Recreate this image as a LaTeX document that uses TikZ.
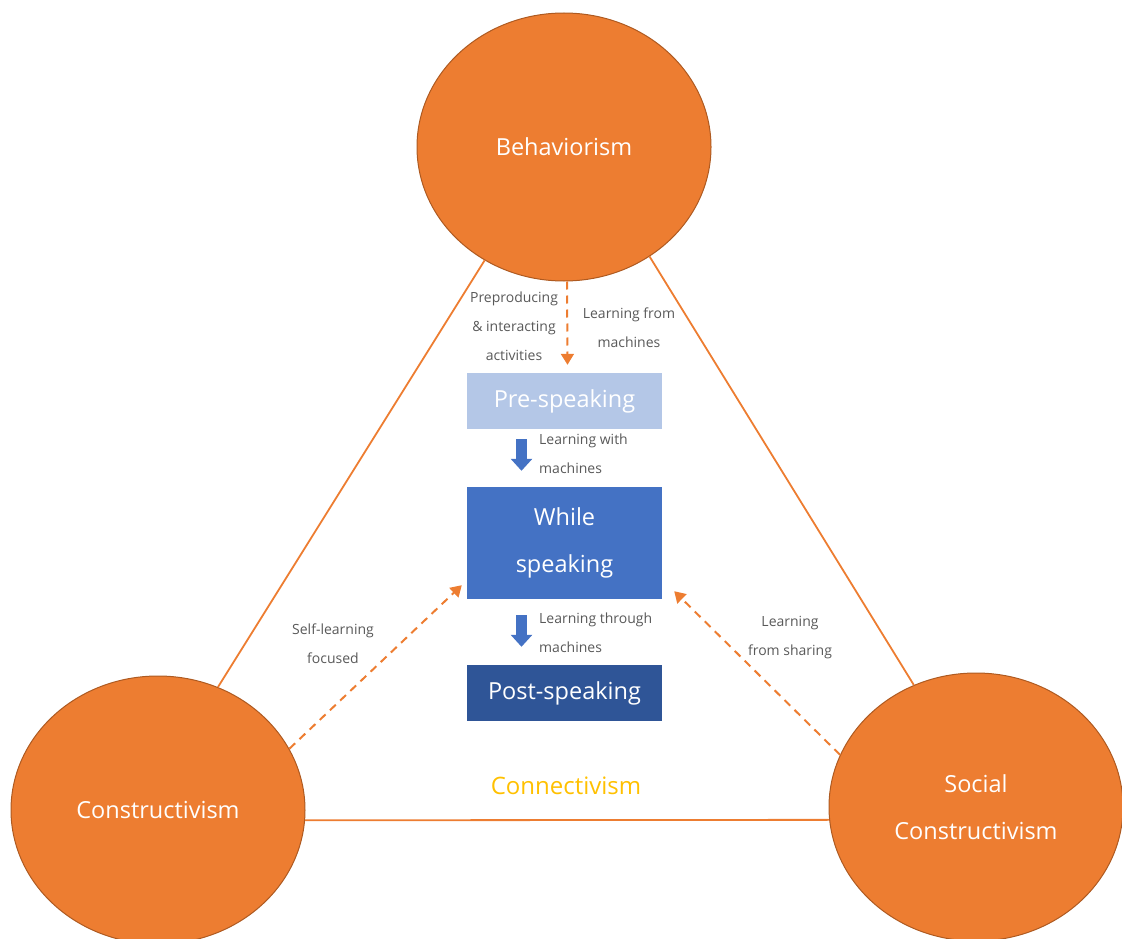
\documentclass[tikz,border=0pt]{standalone}
\usepackage{fontspec}
\setmainfont{Open Sans}
\usetikzlibrary{shapes.geometric,arrows.meta,calc}
\definecolor{orng}{HTML}{ED7D31}
\definecolor{orngdk}{HTML}{AE5A21}
\definecolor{prec}{HTML}{B4C7E7}
\definecolor{whilec}{HTML}{4472C4}
\definecolor{postc}{HTML}{2F5597}
\definecolor{lblc}{HTML}{595959}
\definecolor{yel}{HTML}{FFC000}
\begin{document}
\begin{tikzpicture}[x=1pt,y=-1pt,
  theory/.style={ellipse,fill=orng,draw=orngdk,line width=1pt,minimum width=294pt,minimum height=268pt,inner sep=0pt,text=white,align=center,font=\fontsize{23.5}{47}\selectfont},
  stagebox/.style={rectangle,minimum width=195pt,inner sep=0pt,text=white,align=center,font=\fontsize{23.5}{47}\selectfont},
  lbl/.style={text=lblc,align=center,inner sep=0pt,font=\fontsize{14}{29}\selectfont},
  tri/.style={draw=orng,line width=1.8pt},
  dasharrow/.style={draw=orng,line width=2pt,dash pattern=on 8pt off 6pt,-{Triangle[width=13pt,length=11pt]}},
  blockarrow/.style={draw=whilec,line width=11pt,-{Triangle[width=21pt,length=12pt]}}]
\useasboundingbox (0,0) rectangle (1122,939);
% theory circles
\node[theory] (B) at (564,147) {Behaviorism};
\node[theory] (C) at (158,810) {Constructivism};
\node[theory] (S) at (976,807) {Social\\Constructivism};
% triangle lines
\draw[tri] (B.235) -- (C.64);
\draw[tri] (B.308) -- (S.117);
\draw[tri] (C.356.5) -- (S.185.2);
% stage boxes
\node[stagebox,fill=prec,minimum height=56pt] (P) at (564.5,401) {Pre-speaking};
\node[stagebox,fill=whilec,minimum height=112pt] (W) at (564.5,543) {While\\speaking};
\node[stagebox,fill=postc,minimum height=56pt] (Q) at (564.5,693) {Post-speaking};
% block arrows
\draw[blockarrow] ([shift={(-43,10)}]P.south) -- ([shift={(-43,-16)}]W.north);
\draw[blockarrow] ([shift={(-43,16)}]W.south) -- ([shift={(-43,-18)}]Q.north);
% dashed arrows
\draw[dasharrow] ([xshift=3pt]B.south) -- ([shift={(3,-8)}]P.north);
\draw[dasharrow] (C.25) -- ([shift={(-5,-14)}]W.south west);
\draw[dasharrow] (S.159) -- ([shift={(12,-8)}]W.south east);
% labels
\node[lbl] (l1) at (514,326) {Preproducing\\\& interacting\\activities};
\node[lbl] (l2) at (629,327.5) {Learning from\\machines};
\node[lbl,anchor=west,align=left] (l3) at (539,454) {Learning with\\machines};
\node[lbl,anchor=west,align=left] (l4) at (539,632.5) {Learning through\\machines};
\node[lbl] (l5) at (333,644) {Self-learning\\focused};
\node[lbl] (l6) at (790,637.5) {Learning\\from sharing};
\node[text=yel,inner sep=0pt,font=\fontsize{24}{28}\selectfont] (cn) at (566,786) {Connectivism};
\end{tikzpicture}
\end{document}
